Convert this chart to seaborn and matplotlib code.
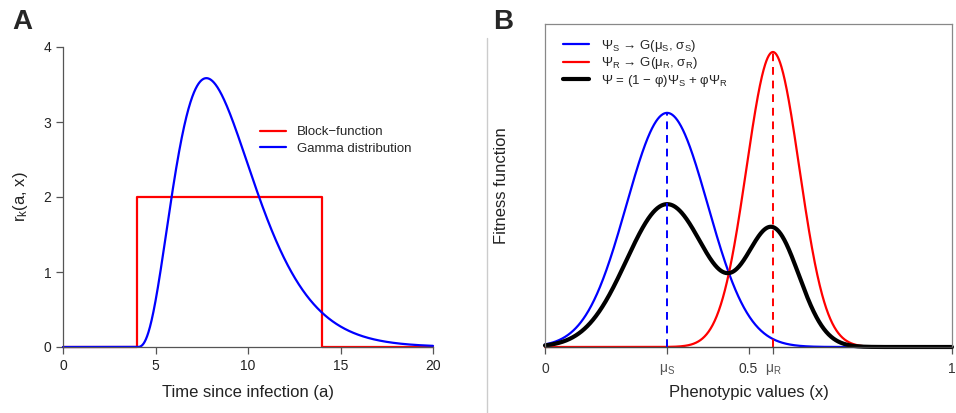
import numpy as np
import pandas as pd
import matplotlib
matplotlib.use("Agg")
import matplotlib.pyplot as plt
from matplotlib.lines import Line2D
import seaborn as sns
from math import gamma as gamma_fn

# ---------------- Panel A data ----------------
block_edges = [4.0, 14.0]          # start / end of the block function
block_height = 2.0
a_xrange = [0.0, 20.0]
gamma_shift = 4.0                  # gamma curve starts at a = 4
gamma_shape = 4.0
gamma_scale = 1.25
gamma_area = 20.0                  # same area as the block (2 x 10)
a_xticks = [0, 5, 10, 15, 20]
a_yticks = [0, 1, 2, 3, 4]
a_labels = ["Block\u2212function", "Gamma distribution"]

# ---------------- Panel B data ----------------
mu_S, mu_R = 0.30, 0.56
sigma_S, sigma_R = 0.10, 0.065
peak_S, peak_R = 1.0, 1.26
phi = 0.39
b_xticks = [0, mu_S, 0.5, mu_R, 1]
b_xticklabels = ["0", "\u03bc$_\\mathrm{S}$", "0.5", "\u03bc$_\\mathrm{R}$", "1"]
b_labels = ["\u03a8$_\\mathrm{S}$ \u2192 G(\u03bc$_\\mathrm{S}$, \u03c3$_\\mathrm{S}$)",
            "\u03a8$_\\mathrm{R}$ \u2192 G(\u03bc$_\\mathrm{R}$, \u03c3$_\\mathrm{R}$)",
            "\u03a8 = (1 \u2212 \u03c6)\u03a8$_\\mathrm{S}$ + \u03c6\u03a8$_\\mathrm{R}$"]

sns.set_style("ticks")
plt.rcParams['font.family'] = ['Liberation Sans', 'DejaVu Sans']
plt.rcParams['mathtext.fontset'] = 'custom'
plt.rcParams['mathtext.rm'] = 'Liberation Sans'
plt.rcParams['mathtext.it'] = 'Liberation Sans:italic'
plt.rcParams['mathtext.bf'] = 'Liberation Sans:bold'

W, H = 956, 413
fig = plt.figure(figsize=(W / 100, H / 100), dpi=100)
axA = fig.add_axes([63 / W, 66 / H, 370 / W, 300 / H])
axB = fig.add_axes([545 / W, 66 / H, 407 / W, 323 / H])

# ---------- Panel A ----------
bx = [a_xrange[0], block_edges[0], block_edges[0], block_edges[1], block_edges[1], a_xrange[1]]
by = [0, 0, block_height, block_height, 0, 0]
block_df = pd.DataFrame({"a": bx, "r": by})

ga = np.linspace(a_xrange[0], a_xrange[1], 2001)
t = np.clip(ga - gamma_shift, 0, None)
gr = gamma_area * t ** (gamma_shape - 1) * np.exp(-t / gamma_scale) / (gamma_fn(gamma_shape) * gamma_scale ** gamma_shape)
gamma_df = pd.DataFrame({"a": ga, "r": gr})

sns.lineplot(data=block_df, x="a", y="r", ax=axA, color="#ff0000", lw=1.6,
             estimator=None, sort=False, label=a_labels[0], clip_on=False)
sns.lineplot(data=gamma_df, x="a", y="r", ax=axA, color="#0000ff", lw=1.6,
             estimator=None, sort=False, label=a_labels[1], clip_on=False)
axA.set_xlim(a_xrange)
axA.set_ylim(0, 4)
axA.set_xticks(a_xticks)
axA.set_yticks(a_yticks)
for s in ["top", "right"]:
    axA.spines[s].set_visible(False)
for s in ["left", "bottom"]:
    axA.spines[s].set_color("#555555")
    axA.spines[s].set_linewidth(0.9)
axA.tick_params(colors="#555555", labelcolor="#222222", labelsize=10, length=5, width=0.9)
axA.set_xlabel("Time since infection (a)", fontsize=12, color="#222222")
axA.set_ylabel("r$_\\mathrm{k}$(a, x)", fontsize=12, color="#222222")
axA.xaxis.set_label_coords(0.5, (347 - 393) / 300)
axA.xaxis.label.set_va("center")
axA.yaxis.set_label_coords((20 - 63) / 370, 0.5)
axA.yaxis.label.set_va("center")
axA.legend(loc="upper left", bbox_to_anchor=(260 / W, 1 - 126 / H), bbox_transform=fig.transFigure,
           frameon=False, fontsize=9.5, handlelength=2.0, handletextpad=0.8, labelspacing=0.35,
           borderpad=0, borderaxespad=0)

# ---------- Panel B ----------
bxs = np.linspace(0, 1, 1001)
psi_S = peak_S * np.exp(-0.5 * ((bxs - mu_S) / sigma_S) ** 2)
psi_R = peak_R * np.exp(-0.5 * ((bxs - mu_R) / sigma_R) ** 2)
psi = (1 - phi) * psi_S + phi * psi_R
bdf = pd.DataFrame({"x": bxs, "S": psi_S, "R": psi_R, "M": psi})

sns.lineplot(data=bdf, x="x", y="S", ax=axB, color="#0000ff", lw=1.6, label=b_labels[0], clip_on=False)
sns.lineplot(data=bdf, x="x", y="R", ax=axB, color="#ff0000", lw=1.6, label=b_labels[1], clip_on=False)
sns.lineplot(data=bdf, x="x", y="M", ax=axB, color="#000000", lw=3.0, label=b_labels[2], clip_on=False)
axB.plot([mu_S, mu_S], [0, peak_S], color="#0000ff", lw=1.4, ls=(0, (4, 3)))
axB.plot([mu_R, mu_R], [0, peak_R], color="#ff0000", lw=1.4, ls=(0, (4, 3)))
axB.set_xlim(0, 1)
axB.set_ylim(0, peak_R * 323 / 295)
axB.set_xticks(b_xticks)
axB.set_xticklabels(b_xticklabels, fontsize=10)
axB.set_yticks([])
for s in ["left", "top", "right"]:
    axB.spines[s].set_color("#888888")
    axB.spines[s].set_linewidth(0.9)
axB.spines["bottom"].set_color("#444444")
axB.spines["bottom"].set_linewidth(1.0)
axB.tick_params(axis="x", colors="#555555", labelcolor="#333333", length=5, width=0.9, pad=6)
for lab in axB.get_xticklabels():
    lab.set_fontsize(10)
    if "\u03bc" in lab.get_text():
        lab.set_color("#555555")
axB.set_xlabel("Phenotypic values (x)", fontsize=12, color="#222222")
axB.set_ylabel("Fitness function", fontsize=12, color="#222222")
axB.xaxis.set_label_coords(0.5, (347 - 393) / 323)
axB.xaxis.label.set_va("center")
axB.yaxis.set_label_coords((502 - 545) / 407, 0.5)
axB.yaxis.label.set_va("center")
axB.legend(loc="upper left", bbox_to_anchor=(563 / W, 1 - 38 / H), bbox_transform=fig.transFigure,
           frameon=False, fontsize=9.5, handlelength=2.0, handletextpad=0.9, labelspacing=0.1,
           borderpad=0, borderaxespad=0)

# divider and panel letters
fig.add_artist(Line2D([487 / W, 487 / W], [0, 1 - 38 / H], color="#cccccc", lw=1, transform=fig.transFigure))
fig.text(12 / W, 1 - 22 / H, "A", fontsize=20, fontweight="bold", va="center", ha="left")
fig.text(493 / W, 1 - 22 / H, "B", fontsize=20, fontweight="bold", va="center", ha="left")

fig.savefig("out.png", dpi=100)
